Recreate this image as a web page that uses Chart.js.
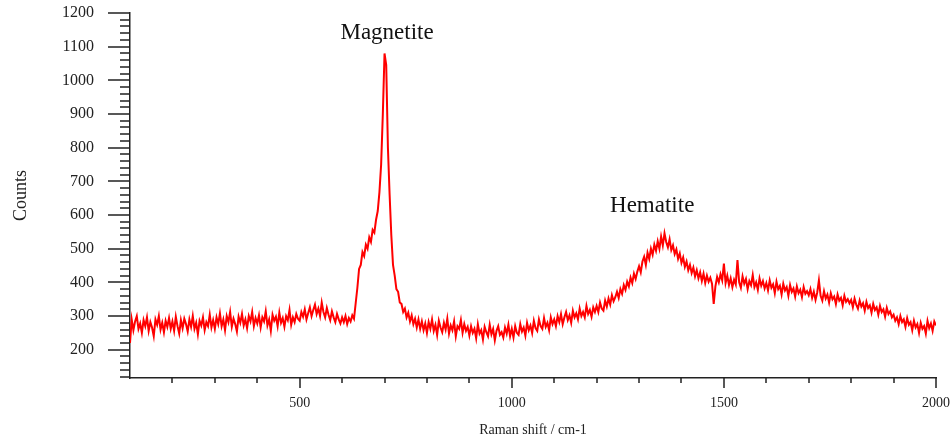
<!DOCTYPE html>
<html>
<head>
<meta charset="utf-8">
<script src="https://cdn.jsdelivr.net/npm/chart.js@4"></script>
<style>
  body { margin: 0; background: #fff; }
  #wrap { width: 951px; height: 441px; }
</style>
</head>
<body>
<div id="wrap"><canvas id="ramanChart" width="951" height="441"></canvas></div>
<script>
// Raman spectrum, every 4 cm-1 from 100 to 2000
const shiftStart = 100;
const shiftStep = 4;
const counts = [
  220, 290, 258, 284, 300, 262, 278, 250, 288, 270, 296, 256, 282, 266, 240, 290, 274, 300, 260, 280, 252, 286, 268, 294, 262, // 100
  284, 256, 298, 270, 248, 288, 264, 292, 276, 254, 290, 268, 300, 262, 280, 246, 286, 272, 296, 258, 282, 270, 304, 266, 288, // 200
  262, 296, 276, 308, 270, 290, 258, 300, 282, 312, 268, 292, 276, 254, 298, 280, 306, 272, 290, 264, 300, 284, 312, 270, 294, // 300
  278, 302, 266, 296, 284, 314, 272, 290, 256, 304, 286, 298, 270, 310, 280, 294, 268, 300, 288, 318, 274, 296, 282, 306, 292, // 400
  286, 312, 298, 320, 290, 308, 326, 300, 318, 334, 306, 322, 300, 340, 312, 296, 324, 304, 288, 314, 296, 282, 306, 290, 278, // 500
  296, 282, 300, 276, 294, 284, 302, 292, 338, 384, 440, 452, 490, 478, 512, 500, 534, 520, 556, 548, 586, 612, 668, 750, 900, // 600
  1080, 1045, 800, 660, 540, 452, 420, 380, 372, 340, 336, 312, 322, 296, 310, 284, 302, 276, 292, 266, 290, 262, 284, 258, 278, // 700
  250, 282, 262, 290, 256, 274, 244, 286, 266, 252, 280, 260, 292, 248, 272, 258, 284, 240, 270, 262, 288, 250, 276, 256, 268, // 800
  242, 270, 250, 262, 234, 276, 248, 258, 230, 268, 252, 240, 274, 246, 262, 228, 256, 270, 244, 252, 236, 266, 248, 274, 240, // 900
  262, 236, 270, 250, 244, 276, 254, 266, 242, 280, 258, 272, 250, 286, 264, 256, 290, 270, 262, 294, 268, 280, 258, 296, 276, // 1000
  290, 270, 300, 282, 306, 276, 296, 312, 288, 302, 280, 316, 296, 308, 290, 322, 300, 312, 296, 330, 306, 318, 298, 326, 312, // 1100
  330, 312, 340, 322, 316, 346, 328, 352, 334, 362, 344, 356, 372, 354, 380, 366, 392, 378, 402, 388, 414, 398, 426, 410, 432, // 1200
  448, 430, 462, 476, 452, 488, 470, 500, 482, 512, 494, 522, 500, 536, 510, 546, 520, 504, 528, 496, 510, 484, 498, 470, 486, // 1300
  458, 474, 446, 462, 436, 452, 428, 444, 418, 436, 412, 430, 404, 426, 398, 420, 402, 414, 396, 336, 388, 416, 400, 424, 406, // 1400
  456, 398, 420, 392, 412, 386, 408, 394, 466, 400, 384, 418, 396, 410, 380, 404, 392, 422, 386, 400, 378, 412, 390, 404, 382, // 1500
  398, 376, 406, 384, 394, 368, 402, 380, 390, 364, 396, 376, 386, 360, 392, 372, 382, 358, 388, 368, 378, 356, 386, 366, 374, // 1600
  362, 380, 354, 372, 348, 370, 406, 360, 346, 374, 352, 364, 340, 368, 350, 358, 336, 364, 346, 354, 332, 360, 342, 350, 338, // 1700
  348, 326, 352, 334, 322, 346, 328, 338, 316, 342, 324, 332, 310, 336, 318, 326, 304, 330, 312, 320, 298, 324, 306, 314, 296, // 1800
  304, 286, 296, 276, 300, 282, 290, 268, 294, 274, 282, 258, 286, 266, 276, 250, 280, 262, 270, 248, 286, 264, 278, 256, 284, // 1900
  272                                                                                                                          // 2000
];

const xMajorTicks = [500, 1000, 1500, 2000];
const xMinorTicks = [200, 300, 400, 600, 700, 800, 900, 1100, 1200, 1300, 1400, 1600, 1700, 1800, 1900];
const yMajorTicks = [200, 300, 400, 500, 600, 700, 800, 900, 1000, 1100, 1200];
const yMinorTicks = [120, 140, 160, 180, 220, 240, 260, 280, 320, 340, 360, 380, 420, 440, 460, 480,
  520, 540, 560, 580, 620, 640, 660, 680, 720, 740, 760, 780, 820, 840, 860, 880,
  920, 940, 960, 980, 1020, 1040, 1060, 1080, 1120, 1140, 1160, 1180];

const peakNames = ["Magnetite", "Hematite"];
const peakShift = [706, 1331];
const peakLabelCounts = [1140, 628];

const points = counts.map((c, i) => ({ x: shiftStart + i * shiftStep, y: c }));

const serif = "'Liberation Serif', 'Times New Roman', serif";

// tick marks of two lengths, placed by the scales
const tickMarks = {
  id: "tickMarks",
  afterDraw(chart) {
    const ctx = chart.ctx;
    const xs = chart.scales.x, ys = chart.scales.y;
    const axisY = chart.chartArea.bottom, axisX = chart.chartArea.left;
    ctx.save();
    ctx.strokeStyle = "#222";
    ctx.lineWidth = 1.5;
    ctx.beginPath();
    xMajorTicks.forEach(v => { const p = Math.round(xs.getPixelForValue(v)); ctx.moveTo(p, axisY); ctx.lineTo(p, axisY + 10); });
    xMinorTicks.forEach(v => { const p = Math.round(xs.getPixelForValue(v)); ctx.moveTo(p, axisY); ctx.lineTo(p, axisY + 5); });
    yMajorTicks.forEach(v => { const p = Math.round(ys.getPixelForValue(v)); ctx.moveTo(axisX - 22, p); ctx.lineTo(axisX, p); });
    yMinorTicks.forEach(v => { const p = Math.round(ys.getPixelForValue(v)); ctx.moveTo(axisX - 10, p); ctx.lineTo(axisX, p); });
    ctx.stroke();

    // peak names
    ctx.fillStyle = "#111";
    ctx.font = "23px " + serif;
    ctx.textAlign = "center";
    ctx.textBaseline = "middle";
    peakNames.forEach((name, i) => {
      ctx.fillText(name, xs.getPixelForValue(peakShift[i]), ys.getPixelForValue(peakLabelCounts[i]));
    });
    ctx.restore();
  }
};

new Chart(document.getElementById("ramanChart"), {
  type: "line",
  data: {
    datasets: [{
      data: points,
      borderColor: "#ff0000",
      borderWidth: 2,
      pointRadius: 0,
      tension: 0
    }]
  },
  options: {
    responsive: false,
    animation: false,
    devicePixelRatio: 1,
    layout: { autoPadding: false, padding: { top: 13, right: 15, left: 0, bottom: 0 } },
    plugins: { legend: { display: false }, tooltip: { enabled: false } },
    scales: {
      x: {
        type: "linear",
        min: 100,
        max: 2000,
        afterBuildTicks: s => { s.ticks = xMajorTicks.map(v => ({ value: v })); },
        afterFit: s => { s.height = 63; s.paddingLeft = 0; s.paddingRight = 0; },
        grid: { display: false, drawTicks: false },
        border: { display: true, color: "#222", width: 1.5 },
        ticks: { color: "#222", font: { family: serif, size: 14 }, padding: 17, maxRotation: 0, callback: v => String(v) },
        title: { display: true, text: "Raman shift / cm-1", color: "#222", font: { family: serif, size: 14 }, padding: { bottom: 2 } }
      },
      y: {
        min: 116,
        max: 1200,
        afterBuildTicks: s => { s.ticks = yMajorTicks.map(v => ({ value: v })); },
        afterFit: s => { s.width = 130; s.paddingTop = 0; s.paddingBottom = 0; },
        grid: { display: false, drawTicks: false },
        border: { display: true, color: "#222", width: 1.5 },
        ticks: { color: "#222", font: { family: serif, size: 16 }, padding: 36, callback: v => String(v) },
        title: { display: true, text: "Counts", color: "#222", font: { family: serif, size: 18 }, padding: { top: 10 } }
      }
    }
  },
  plugins: [tickMarks]
});
</script>
</body>
</html>
